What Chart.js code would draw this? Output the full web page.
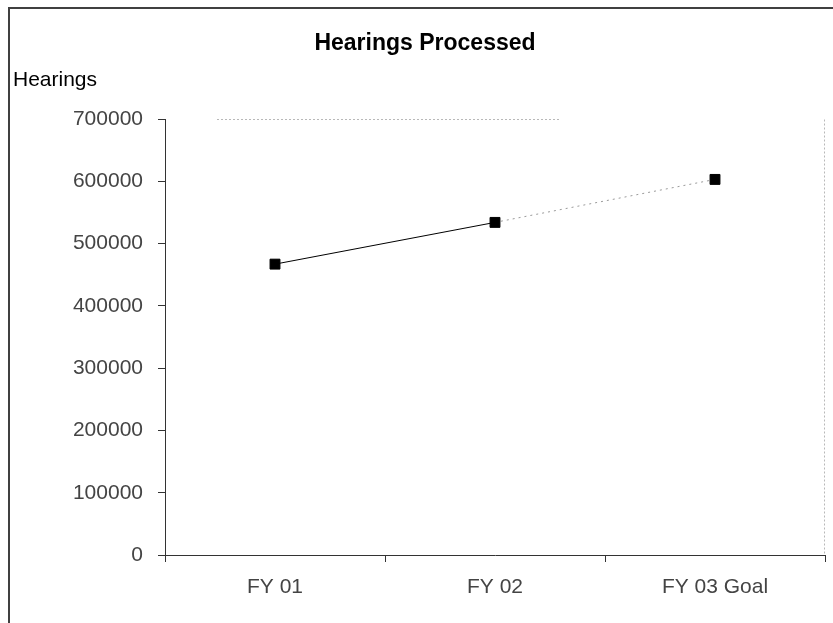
<!DOCTYPE html>
<html>
<head>
<meta charset="utf-8">
<style>
  html, body { margin: 0; padding: 0; background: #fff; }
  #c { display: block; }
</style>
<script src="https://cdn.jsdelivr.net/npm/chart.js@4/dist/chart.umd.min.js"></script>
</head>
<body>
<canvas id="c" width="833" height="623"></canvas>
<script>
const categories = ['FY 01', 'FY 02', 'FY 03 Goal'];
const hearings = [467000, 534000, 603000];
const yTicks = [0, 100000, 200000, 300000, 400000, 500000, 600000, 700000];
const chartTitle = 'Hearings Processed';
const axisLabel = 'Hearings';

const decorPlugin = {
  id: 'decor',
  beforeDraw(chart) {
    const ctx = chart.ctx;
    ctx.save();
    ctx.fillStyle = '#fff';
    ctx.fillRect(0, 0, chart.width, chart.height);
    // outer frame (left & top)
    ctx.strokeStyle = '#404040';
    ctx.lineWidth = 2;
    ctx.beginPath();
    ctx.moveTo(9, chart.height);
    ctx.lineTo(9, 8);
    ctx.lineTo(chart.width, 8);
    ctx.stroke();
    ctx.restore();
  },
  afterDraw(chart) {
    const ctx = chart.ctx;
    const a = chart.chartArea;
    const y = chart.scales.y;
    ctx.save();
    // axis label
    ctx.fillStyle = '#000';
    ctx.font = '21px "Liberation Sans", Arial, sans-serif';
    ctx.textAlign = 'left';
    ctx.textBaseline = 'middle';
    ctx.fillText(axisLabel, 13, 80);
    // faint dotted plot-area edges
    ctx.strokeStyle = '#b8b8b8';
    ctx.lineWidth = 1;
    ctx.setLineDash([2, 2]);
    const top = Math.round(y.getPixelForValue(yTicks[yTicks.length - 1])) + 0.5;
    ctx.beginPath();
    ctx.moveTo(a.left + 52, top);
    ctx.lineTo(a.left + 395, top);
    ctx.stroke();
    ctx.beginPath();
    ctx.moveTo(Math.round(a.right) - 0.5, top);
    ctx.lineTo(Math.round(a.right) - 0.5, a.bottom);
    ctx.stroke();
    ctx.restore();
  }
};

new Chart(document.getElementById('c'), {
  type: 'line',
  data: {
    labels: categories,
    datasets: [{
      label: axisLabel,
      data: hearings,
      borderColor: '#000',
      borderWidth: 1,
      pointStyle: 'rect',
      pointRadius: 7,
      pointBackgroundColor: '#000',
      pointBorderColor: '#000',
      pointBorderWidth: 1,
      tension: 0,
      fill: false,
      segment: {
        borderColor: c => c.p0DataIndex === 1 ? '#9a9a9a' : '#000',
        borderDash: c => c.p0DataIndex === 1 ? [2, 4] : undefined
      }
    }]
  },
  options: {
    responsive: false,
    animation: false,
    layout: { padding: { left: 25, right: 8, top: 0, bottom: 0 } },
    plugins: {
      legend: { display: false },
      tooltip: { enabled: false },
      title: {
        display: true,
        text: chartTitle,
        color: '#000',
        font: { family: '"Liberation Sans", Arial, sans-serif', size: 23, weight: 'bold' },
        padding: { top: 30, bottom: 61.4 }
      }
    },
    scales: {
      x: {
        type: 'category',
        offset: true,
        grid: { offset: true, drawOnChartArea: false, tickLength: 7, color: '#333' },
        border: { color: '#333', width: 1 },
        ticks: {
          color: '#444',
          padding: 13,
          font: { family: '"Liberation Sans", Arial, sans-serif', size: 21 }
        },
        afterFit(scale) { scale.height = 68; }
      },
      y: {
        min: 0,
        max: 700000,
        afterBuildTicks(scale) { scale.ticks = yTicks.map(v => ({ value: v })); },
        grid: { drawOnChartArea: false, tickLength: 7, color: '#333' },
        border: { color: '#333', width: 1 },
        ticks: {
          color: '#444',
          padding: 15,
          font: { family: '"Liberation Sans", Arial, sans-serif', size: 21 },
          callback: v => String(v)
        },
        afterFit(scale) { scale.width = 140; }
      }
    }
  },
  plugins: [decorPlugin]
});
</script>
</body>
</html>
